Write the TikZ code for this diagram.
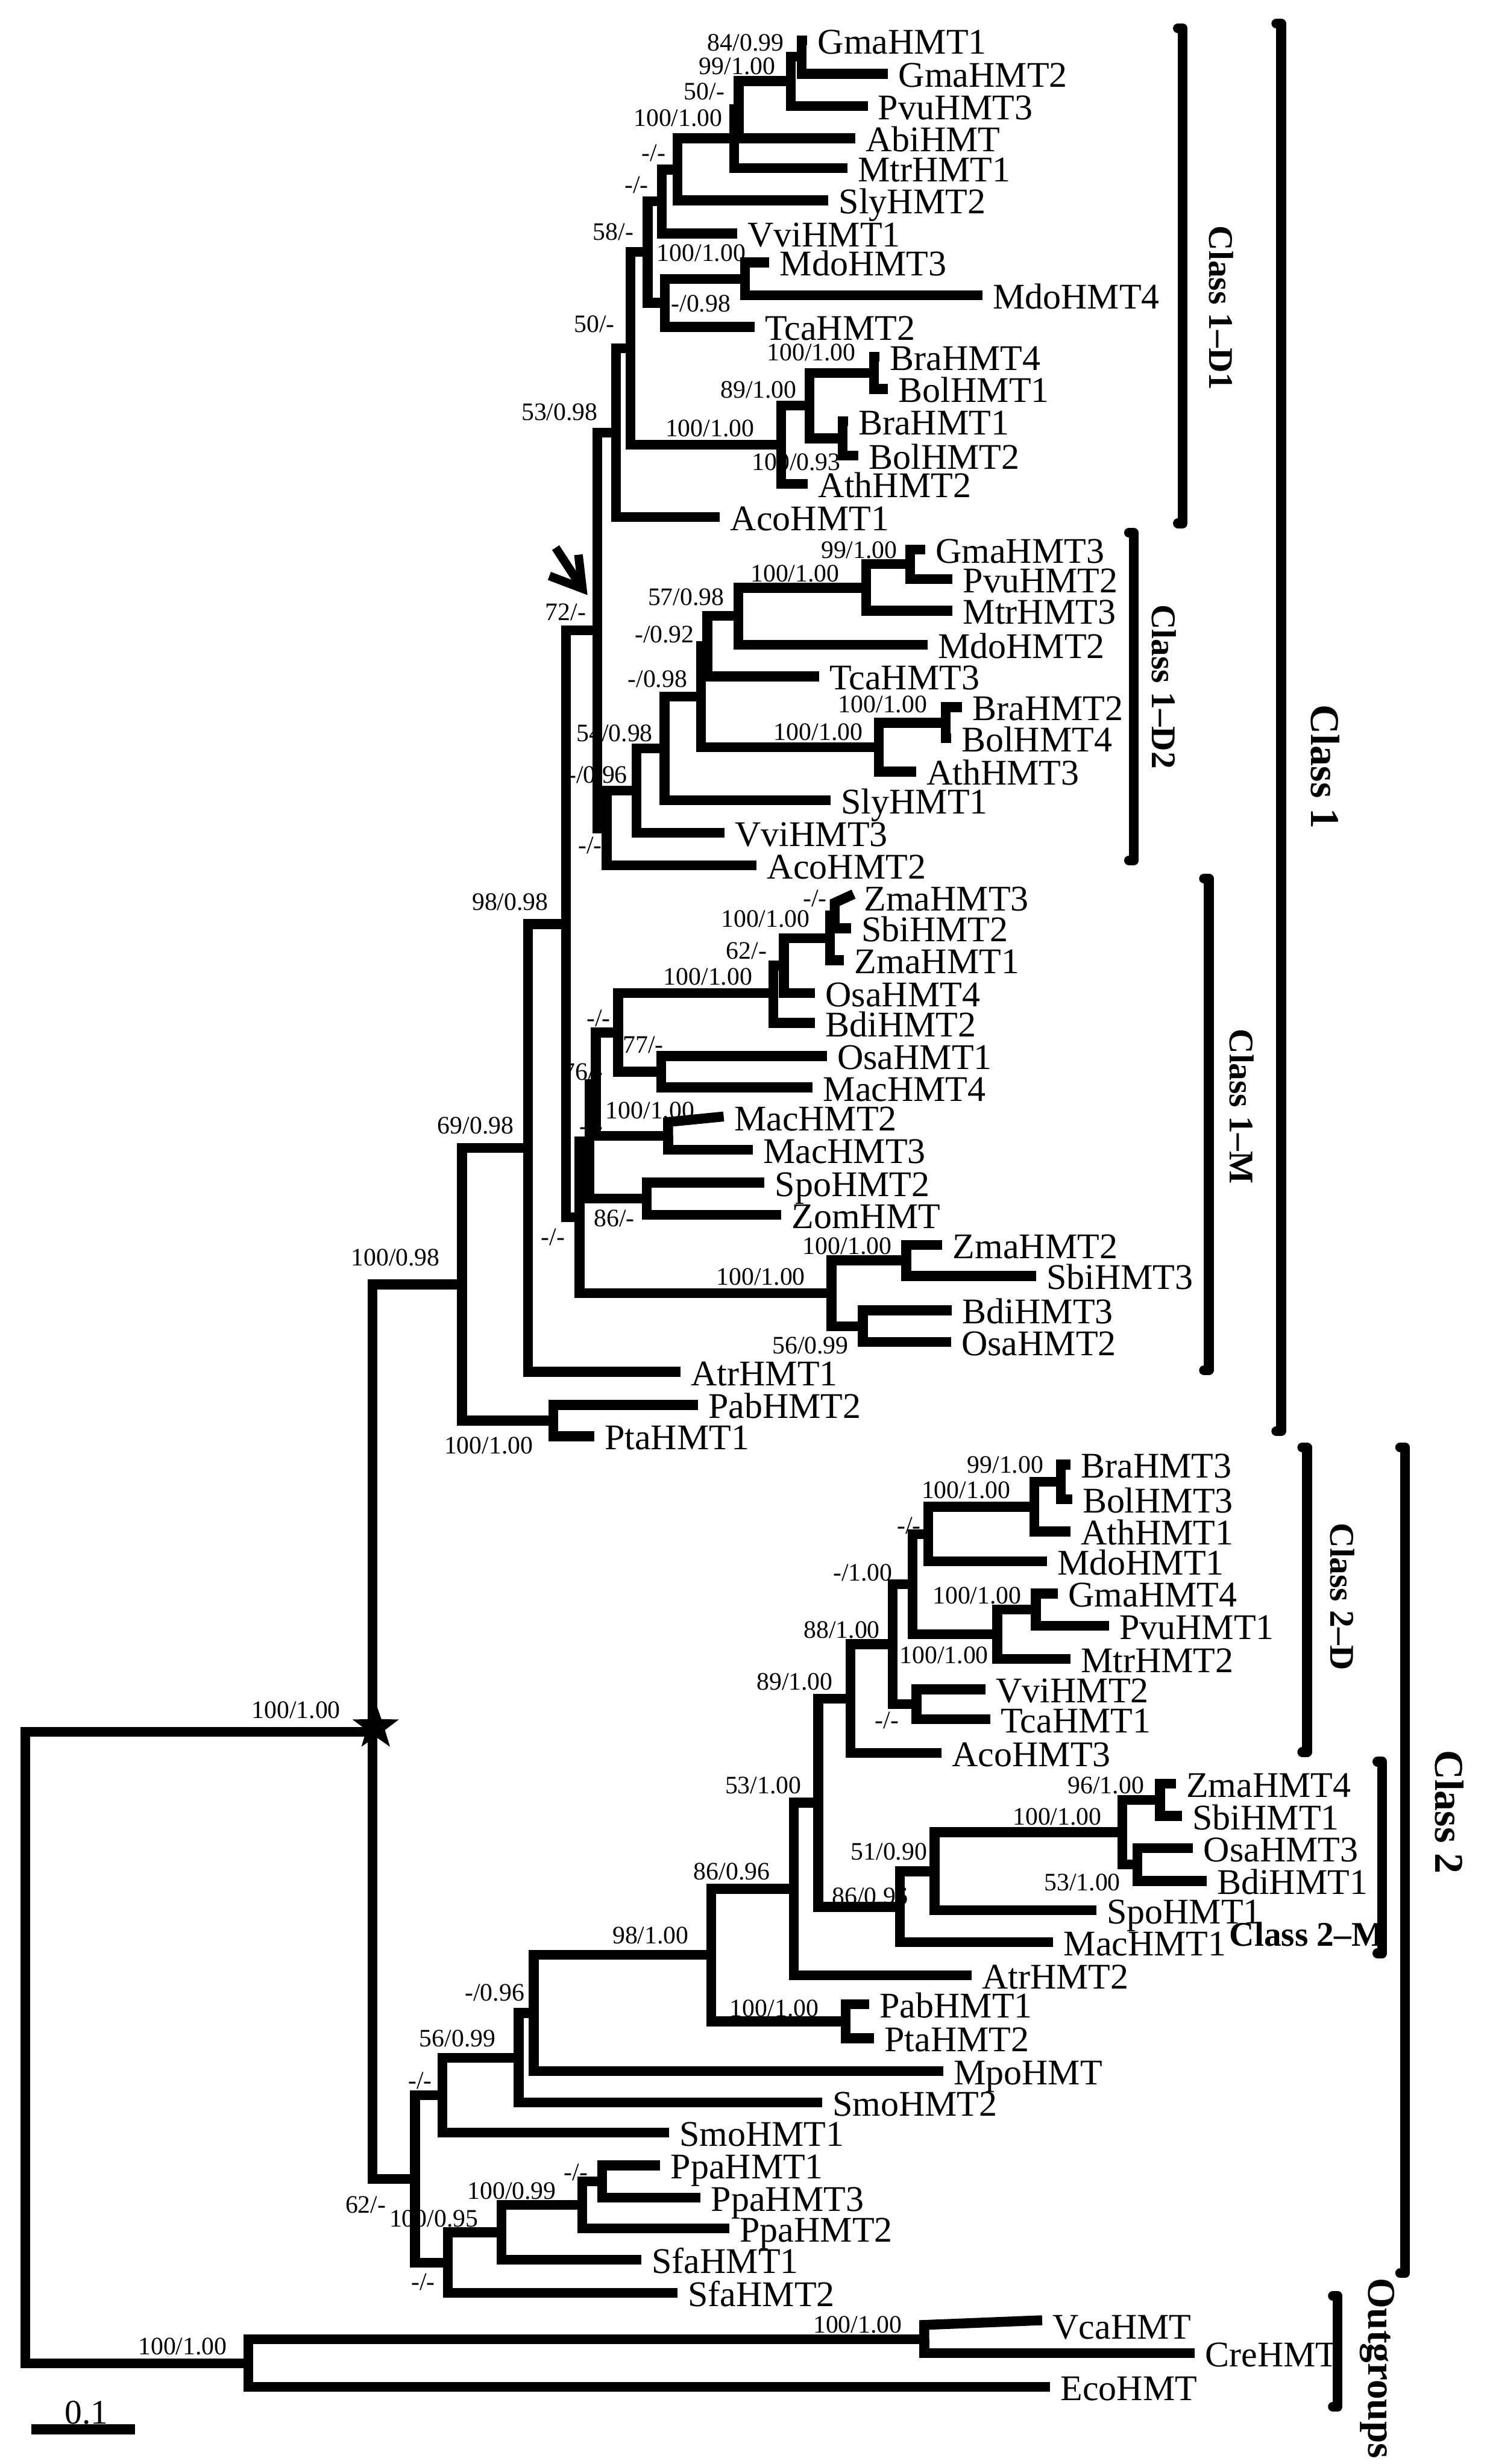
\documentclass[tikz,border=0pt]{standalone}
\usepackage{fontspec}
\setmainfont{Liberation Serif}
\usetikzlibrary{shapes.geometric}
\begin{document}
\begin{tikzpicture}[x=1pt,y=-1pt,
 br/.style={line width=6.3pt,line cap=butt,line join=miter},
 brk/.style={line width=6.3pt,line cap=round,line join=round},
 leaf/.style={anchor=west,inner sep=0pt,xshift=6.5pt,yshift=-1pt,font=\fontsize{23}{23}\selectfont,text height=15.2pt,text depth=0pt},
 sup/.style={anchor=east,inner sep=0pt,font=\fontsize{16}{16}\selectfont,text height=10.8pt,text depth=0pt},
 cls/.style={rotate=-90,inner sep=0pt,font=\bfseries\fontsize{22}{22}\selectfont},
 bigcls/.style={rotate=-90,inner sep=0pt,font=\bfseries\fontsize{26}{26}\selectfont}]
\useasboundingbox (0,0) rectangle (946,1568);
\fill[white] (0,0) rectangle (946,1568);

% ---------- support values ----------
\foreach \x/\y/\t [count=\i] in {
498.8/27/{84/0.99}, 493.4/42/{99/1.00}, 461.2/58/{50/-}, 459.8/75/{100/1.00},
423.5/97/{-/-}, 412.7/117.6/{-/-}, 403.3/147.6/{58/-}, 474.6/161/{100/1.00},
465/193/{-/0.98}, 391.2/206/{50/-}, 480/272.6/{100/1.00}, 507/248/{89/1.00},
544.6/224/{100/1.00}, 535/294/{100/0.93}, 380.4/262/{53/0.98}, 373/389.4/{72/-},
571/349.7/{99/1.00}, 534.2/364.8/{100/1.00}, 460.9/379.8/{57/0.98}, 441.8/403.7/{-/0.92},
437.4/432/{-/0.98}, 590/448/{100/1.00}, 549/465.7/{100/1.00}, 415.4/466.4/{54/0.98},
399.3/492.8/{-/0.96}, 383.1/537.6/{-/-}, 526.2/571.7/{-/-}, 515.4/584.4/{100/1.00},
488/605/{62/-}, 478.8/621.5/{100/1.00}, 388.6/648/{-/-}, 422.2/664.6/{77/-},
384/682/{76/-}, 442/706.6/{100/1.00}, 384/716.4/{-/-}, 359.5/787/{-/-},
403.9/775/{86/-}, 567.4/792.7/{100/1.00}, 512.4/812.3/{100/1.00}, 540/856/{56/0.99},
349/574/{98/0.98}, 327/716/{69/0.98}, 280/800/{100/0.98}, 339.3/919.6/{100/1.00},
664/932/{99/1.00}, 643/948/{100/1.00}, 586/970.6/{-/-}, 568/1000.6/{-/1.00},
650/1015/{100/1.00}, 560/1037/{88/1.00}, 629/1053/{100/1.00}, 530/1070/{89/1.00},
572/1094.6/{-/-}, 510/1136/{53/1.00}, 728/1136/{96/1.00}, 701/1156/{100/1.00},
590/1178/{51/0.90}, 713/1197.6/{53/1.00}, 578/1206.5/{86/0.96}, 490/1191/{86/0.96},
438.3/1231.6/{98/1.00}, 521/1278/{100/1.00}, 333.8/1268/{-/0.96}, 315.5/1297/{56/0.99},
275/1324/{-/-}, 245.7/1403/{62/-}, 304.4/1411.7/{100/0.95}, 277/1452/{-/-},
354/1394/{100/0.99}, 374.2/1382/{-/-}, 144.6/1493/{100/1.00}, 574/1479/{100/1.00},
216.8/1088/{100/1.00}}
  \node[sup] (s\i) at (\x,\y) {\t};

% ---------- leaves ----------
\foreach \n/\x/\y in {
GmaHMT1/513.6/25.6, GmaHMT2/565/47, PvuHMT3/552/67.5, AbiHMT/544/88, MtrHMT1/539/107,
SlyHMT2/527/127.5, VviHMT1/469/148.6, MdoHMT3/489.4/167, MdoHMT4/625/188, TcaHMT2/480/208,
BraHMT4/559.5/227, BolHMT1/565/247.5, BraHMT1/539.5/268, BolHMT2/546/290, AthHMT2/514/308,
AcoHMT1/458/329, GmaHMT3/588.5/349.7, PvuHMT2/606/368.5, MtrHMT3/606/388.6, MdoHMT2/590/410.3,
TcaHMT3/521/430.4, BraHMT2/612/450, BolHMT4/605/469.7, AthHMT3/582.7/491, SlyHMT1/528.4/509.3,
VviHMT3/461/530, AcoHMT2/481.4/550.7, SbiHMT2/541.4/590.7, ZmaHMT1/537/611,
OsaHMT4/518.5/632, BdiHMT2/518.5/651, OsaHMT1/526/672, MacHMT4/517/692,
MacHMT3/478.8/731.6, SpoHMT2/486.4/752.6, ZomHMT/497/773, ZmaHMT2/599.5/792.2, SbiHMT3/659/812,
BdiHMT3/605.6/833.8, OsaHMT2/605/854, AtrHMT1/433/873, PabHMT2/444/894, PtaHMT1/378/914,
BraHMT3/681/932, BolHMT3/682/954, AthHMT1/681/974.5, MdoHMT1/666/993.5, GmaHMT4/673/1014,
PvuHMT1/705.5/1034.5, MtrHMT2/681/1055.6, VviHMT2/627/1075, TcaHMT1/630/1094, AcoHMT3/599/1115.5,
ZmaHMT4/748/1135, SbiHMT1/752/1155.6, OsaHMT3/759/1176, BdiHMT1/767.6/1197, SpoHMT1/697.4/1215.5,
MacHMT1/670/1236, AtrHMT2/618/1257, PabHMT1/553/1275.5, PtaHMT2/556/1297, MpoHMT/600/1318,
SmoHMT2/523/1338, SmoHMT1/425.5/1357, PpaHMT1/420/1378, PpaHMT3/445.7/1398.5, PpaHMT2/464/1418,
SfaHMT1/408/1438, SfaHMT2/431/1459, CreHMT/760/1497.4, EcoHMT/668/1519}
 {\coordinate (t\n) at (\x,\y); \node[leaf] (\n) at (t\n) {\n};}
% slanted leaves
\coordinate (tZmaHMT3) at (543,569);   \node[leaf] (ZmaHMT3) at (543,571) {ZmaHMT3};
\coordinate (tMacHMT2) at (460.4,710.5); \node[leaf] (MacHMT2) at (460.4,711) {MacHMT2};
\coordinate (tVcaHMT) at (663,1476.5); \node[leaf] (VcaHMT) at (663,1480) {VcaHMT};
\coordinate (kZma) at (531,574.5);
\coordinate (kMac) at (425,714);
\coordinate (kVca) at (588,1479.5);

% ---------- internal nodes ----------
\foreach \n/\x/\y in {
n84/510/36, n99/503/51.5, n50/470/69.5, n100a/467/88, ndd1/431/108, ndd2/421/128,
n100b/474/177.5, n098/423/192.7, n58/412/160.3, n100c/556/237.3, nbb/536/279, n89/515/258,
nbra/497/283, n50b/401/221.6, n53/392/275.3,
n99c/579/359, n100g/551/374, n57/469.7/392, n092/450/411, n100i/601.7/460, n100h/559/475.4,
n098b/446/443.2, n54/422.7/476.3, n096b/405/503.2, ndd6/386/527, n72/380/401,
ndd7/531/582.6, n100m/528/597, n62b/498.7/614.5, n100l/492/632, n77/420.6/682, nw/393.2/657,
n100n/425/722.8, n76/379/690, n86c/411.5/762.8, nu/375/726.4, n100k/576.6/802, n56b/549/844,
n100j/529/823, ny/368.7/774.7, nx/360/588, n98/336/730.5, nPab/352/904, nC1/294/817.3,
n99b/675/943, n100d/658/958.8, ndd/590.5/976.2, n100e/659/1024.3, ngpm/634.5/1040,
n100x/580.5/1008.1, nVT/583/1084.5, nm1/568/1046.3, n88/541/1081, n96/738/1145.3,
n53b/723.5/1186.5, n100f/714/1166, n51/594.5/1190.8, n86a/572.5/1213.4, n89b/520.5/1147.2,
n53c/505/1202, nPab2/538/1286.3, n86b/452.5/1244, n98b/339.5/1281, n096/330/1309.5,
n56/281.5/1333.2, ndd5/383/1388.2, ndd4/370.4/1403.1, n10099/319/1420.5, n10095/285/1439.8,
n62/264/1386.5, nstar/237/1102, nvc/588/1488.7, nout/158/1503.9, nroot/16/1303}
 {\coordinate (\n) at (\x,\y);}

% ---------- branches ----------
\foreach \p/\c in {
n84/tGmaHMT1, n84/tGmaHMT2, n99/n84, n99/tPvuHMT3, n50/n99, n50/tAbiHMT, n100a/n50, n100a/tMtrHMT1,
ndd1/n100a, ndd1/tSlyHMT2, ndd2/ndd1, ndd2/tVviHMT1, n100b/tMdoHMT3, n100b/tMdoHMT4,
n098/n100b, n098/tTcaHMT2, n58/ndd2, n58/n098, n100c/tBraHMT4, n100c/tBolHMT1,
nbb/tBraHMT1, nbb/tBolHMT2, n89/n100c, n89/nbb, nbra/n89, nbra/tAthHMT2, n50b/n58, n50b/nbra,
n53/n50b, n53/tAcoHMT1,
n99c/tGmaHMT3, n99c/tPvuHMT2, n100g/n99c, n100g/tMtrHMT3, n57/n100g, n57/tMdoHMT2,
n092/n57, n092/tTcaHMT3, n100i/tBraHMT2, n100i/tBolHMT4, n100h/n100i, n100h/tAthHMT3,
n098b/n092, n098b/n100h, n54/n098b, n54/tSlyHMT1, n096b/n54, n096b/tVviHMT3,
ndd6/n096b, ndd6/tAcoHMT2, n72/n53, n72/ndd6,
ndd7/tSbiHMT2, n100m/ndd7, n100m/tZmaHMT1, n62b/n100m, n62b/tOsaHMT4, n100l/n62b, n100l/tBdiHMT2,
n77/tOsaHMT1, n77/tMacHMT4, nw/n100l, nw/n77, n100n/tMacHMT3, n76/nw, n76/n100n,
n86c/tSpoHMT2, n86c/tZomHMT, nu/n76, nu/n86c, n100k/tZmaHMT2, n100k/tSbiHMT3,
n56b/tBdiHMT3, n56b/tOsaHMT2, n100j/n100k, n100j/n56b, ny/nu, ny/n100j, nx/n72, nx/ny,
n98/nx, n98/tAtrHMT1, nPab/tPabHMT2, nPab/tPtaHMT1, nC1/n98, nC1/nPab,
n99b/tBraHMT3, n99b/tBolHMT3, n100d/n99b, n100d/tAthHMT1, ndd/n100d, ndd/tMdoHMT1,
n100e/tGmaHMT4, n100e/tPvuHMT1, ngpm/n100e, ngpm/tMtrHMT2, n100x/ndd, n100x/ngpm,
nVT/tVviHMT2, nVT/tTcaHMT1, nm1/n100x, nm1/nVT, n88/nm1, n88/tAcoHMT3,
n96/tZmaHMT4, n96/tSbiHMT1, n53b/tOsaHMT3, n53b/tBdiHMT1, n100f/n96, n100f/n53b,
n51/n100f, n51/tSpoHMT1, n86a/n51, n86a/tMacHMT1, n89b/n88, n89b/n86a, n53c/n89b, n53c/tAtrHMT2,
nPab2/tPabHMT1, nPab2/tPtaHMT2, n86b/n53c, n86b/nPab2, n98b/n86b, n98b/tMpoHMT,
n096/n98b, n096/tSmoHMT2, n56/n096, n56/tSmoHMT1, ndd5/tPpaHMT1, ndd5/tPpaHMT3,
ndd4/ndd5, ndd4/tPpaHMT2, n10099/ndd4, n10099/tSfaHMT1, n10095/n10099, n10095/tSfaHMT2,
n62/n56, n62/n10095, nstar/nC1, nstar/n62, nvc/tCreHMT, nout/nvc, nout/tEcoHMT,
nroot/nstar, nroot/nout}
 {\draw[br] (\p) |- (\c);}
\draw[br] (ndd7) -- (kZma) -- (tZmaHMT3);
\draw[br] (n100n) -- (kMac) -- (tMacHMT2);
\draw[br] (nvc) -- (kVca) -- (tVcaHMT);

% star
\node[star,star points=5,star point ratio=2.5,fill=black,minimum size=31pt,inner sep=0pt] (starsym) at (239,1099) {};

% arrow
\coordinate (arT) at (353.5,348.5); \coordinate (arH) at (370.5,374.5);
\coordinate (arW1) at (368,353); \coordinate (arW2) at (349.5,366.5);
\draw[line width=5.5pt] (arT) -- (arH);
\draw[line width=5.5pt,line join=miter] (arW1) -- (arH) -- (arW2);

% scale bar
\coordinate (sb1) at (20,1546); \coordinate (sb2) at (86,1546);
\draw[line width=6.3pt] (sb1) -- (sb2);
\node[inner sep=0pt,font=\fontsize{22}{22}\selectfont,text height=15pt,text depth=0pt] (sbl) at (55,1535) {0.1};

% ---------- class labels ----------
\node[cls] (lD1) at (777,196) {Class 1--D1};
\node[cls] (lD2) at (740.5,437) {Class 1--D2};
\node[cls] (lM1) at (790,704) {Class 1--M};
\node[bigcls] (lC1) at (843,488) {Class 1};
\node[cls] (lD2b) at (854,1016) {Class 2--D};
\node[bigcls] (lC2) at (922,1153) {Class 2};
\node[anchor=west,inner sep=0pt,font=\bfseries\fontsize{22}{22}\selectfont,text height=15pt,text depth=0pt] (lM2) at (782,1231) {Class 2--M};
\node[rotate=-90,inner sep=0pt,font=\bfseries\fontsize{25}{25}\selectfont] (lOut) at (876,1507) {Outgroups};

% ---------- brackets ----------
\foreach \n/\x/\a/\b in {bD1/752.4/18/333, bD2/721.3/339/547.5, bM1/769/559/872, bC1/815/15/910.7,
  bD2b/831.5/921/1115, bM2/879.3/1121/1243, bC2/893.8/921/1446.5, bOut/851/1461/1531.5}
 {\coordinate (\n a) at (\x-3,\a); \coordinate (\n b) at (\x,\a);
  \coordinate (\n c) at (\x,\b); \coordinate (\n d) at (\x-3,\b);
  \draw[brk] (\n a) -- (\n b) -- (\n c) -- (\n d);}
\end{tikzpicture}
\end{document}
